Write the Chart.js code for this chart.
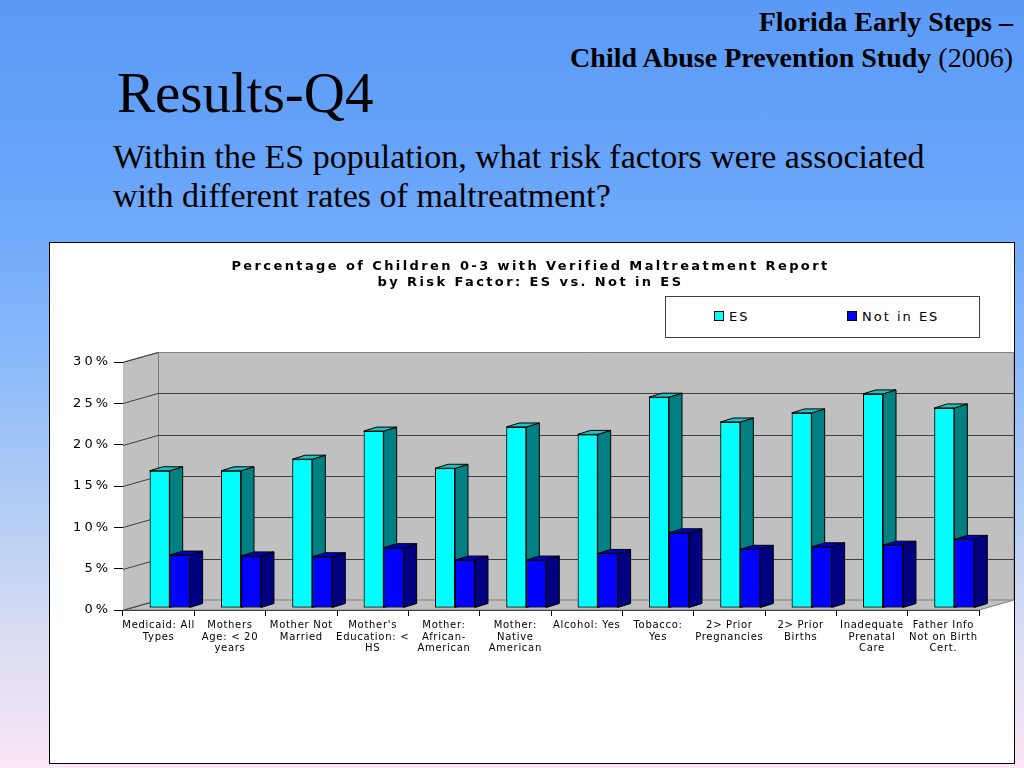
<!DOCTYPE html>
<html>
<head>
<meta charset="utf-8">
<script src="https://cdn.jsdelivr.net/npm/chart.js@4"></script>
<style>
  html, body { margin: 0; padding: 0; }
  body {
    width: 1024px; height: 768px; overflow: hidden; position: relative;
    background: linear-gradient(to bottom, #5a9af7 0%, #6aa6f9 25%, #86b8fa 45%, #b0ccf5 65%, #d8dcf2 82%, #fbe6f6 100%);
    font-family: "Liberation Serif", "Times New Roman", serif;
  }
  #study { position: absolute; right: 11px; top: 4px; text-align: right; font-size: 28px; line-height: 36px; color: #000; }
  #heading { position: absolute; left: 117px; top: 64px; font-size: 57px; line-height: 57px; color: #000; }
  #question { position: absolute; left: 113px; top: 137px; font-size: 34px; line-height: 39px; color: #000; }
  #box { position: absolute; left: 49px; top: 242px; width: 964px; height: 520px; border: 1px solid #000; background: #fff; }
  #legend {
    position: absolute; left: 615px; top: 53px; width: 313px; height: 40px;
    border: 1px solid #404040; background: #fff;
    font-family: "DejaVu Sans", sans-serif; font-size: 13px; letter-spacing: 2px; color: #000;
  }
  .item { position: absolute; top: 12px; line-height: 15px; }
  .sw { display: inline-block; width: 8px; height: 8px; border: 1px solid #000; margin-right: 5px; vertical-align: 0px; }
</style>
</head>
<body>
<div id="study"><b>Florida Early Steps –</b><br><b>Child Abuse Prevention Study</b> (2006)</div>
<div id="heading">Results-Q4</div>
<div id="question">Within the ES population, what risk factors were associated<br>with different rates of maltreatment?</div>
<div id="box">
  <canvas id="chart" width="964" height="520"></canvas>
  <div id="legend">
    <div class="item" style="left:48px"><span class="sw" style="background:#00ffff"></span>ES</div>
    <div class="item" style="left:181px"><span class="sw" style="background:#0000ff"></span>Not in ES</div>
  </div>
</div>
<script>
const categories = [
    ['Medicaid: All', 'Types'],
    ['Mothers', 'Age: < 20', 'years'],
    ['Mother Not', 'Married'],
    ["Mother's", 'Education: <', 'HS'],
    ['Mother:', 'African-', 'American'],
    ['Mother:', 'Native', 'American'],
    ['Alcohol: Yes'],
    ['Tobacco:', 'Yes'],
    ['2> Prior', 'Pregnancies'],
    ['2> Prior', 'Births'],
    ['Inadequate', 'Prenatal', 'Care'],
    ['Father Info', 'Not on Birth', 'Cert.']
];
const esValues = [16.6, 16.6, 18.0, 21.4, 16.9, 21.9, 21.0, 25.5, 22.5, 23.6, 25.9, 24.2];
const notEsValues = [6.4, 6.3, 6.2, 7.3, 5.8, 5.8, 6.6, 9.1, 7.1, 7.4, 7.6, 8.3];
const seriesNames = ['ES', 'Not in ES'];
const chartTitle = ['Percentage of Children 0-3 with Verified Maltreatment Report', 'by Risk Factor: ES vs. Not in ES'];

const SANS = '"DejaVu Sans", "Liberation Sans", Arial, sans-serif';

// gray walls + floor behind the bars, gridlines sit on the back wall
const walls = {
    id: 'walls',
    beforeDatasetsDraw(chart) {
        const ctx = chart.ctx;
        const { left, right, top, bottom } = chart.chartArea;
        const dx = 35, dy = -10;
        ctx.save();
        ctx.fillStyle = '#c0c0c0';
        ctx.strokeStyle = '#808080';
        ctx.lineWidth = 1;
        // back wall
        ctx.fillRect(left + dx, top + dy, right - left, bottom - top);
        // left wall
        ctx.beginPath();
        ctx.moveTo(left, top); ctx.lineTo(left + dx, top + dy);
        ctx.lineTo(left + dx, bottom + dy); ctx.lineTo(left, bottom);
        ctx.closePath(); ctx.fill();
        // floor
        ctx.beginPath();
        ctx.moveTo(left, bottom); ctx.lineTo(left + dx, bottom + dy);
        ctx.lineTo(right + dx, bottom + dy); ctx.lineTo(right, bottom);
        ctx.closePath(); ctx.fill(); ctx.stroke();
        // wall edges
        ctx.beginPath();
        ctx.moveTo(left + 0.5, top); ctx.lineTo(left + dx + 0.5, top + dy + 0.5);
        ctx.lineTo(right + dx, top + dy + 0.5); ctx.lineTo(right + dx, bottom + dy);
        ctx.moveTo(left + dx + 0.5, top + dy); ctx.lineTo(left + dx + 0.5, bottom + dy);
        ctx.stroke();
        // gridlines
        const ys = chart.scales.y;
        ctx.strokeStyle = '#404040';
        ys.ticks.forEach(t => {
            const py = Math.round(ys.getPixelForValue(t.value)) + 0.5;
            ctx.beginPath();
            ctx.moveTo(left, py); ctx.lineTo(left + dx, py + dy);
            if (t.value > 0 && t.value < ys.max) ctx.lineTo(right + dx, py + dy);
            ctx.stroke();
        });
        ctx.restore();
        // bars sit a little into the depth
        ctx.save();
        ctx.translate(11, -2);
    },
    afterDatasetsDraw(chart) {
        const ctx = chart.ctx;
        const fx = 13, fy = -4;
        // redraw left-to-right so each bar covers the side face of the one before
        chart.data.datasets.forEach((ds, i) => {
            chart.getDatasetMeta(i).data.forEach(bar => {
                bar.draw(ctx);
                const { x, y, base, width } = bar.getProps(['x', 'y', 'base', 'width'], true);
                const l = x - width / 2, r = x + width / 2;
                ctx.save();
                ctx.strokeStyle = '#000';
                ctx.lineWidth = 1;
                ctx.fillStyle = ds.sideColor;
                ctx.beginPath();
                ctx.moveTo(r, y); ctx.lineTo(r + fx, y + fy); ctx.lineTo(r + fx, base + fy); ctx.lineTo(r, base);
                ctx.closePath(); ctx.fill(); ctx.stroke();
                ctx.fillStyle = ds.topColor;
                ctx.beginPath();
                ctx.moveTo(l, y); ctx.lineTo(l + fx, y + fy); ctx.lineTo(r + fx, y + fy); ctx.lineTo(r, y);
                ctx.closePath(); ctx.fill(); ctx.stroke();
                ctx.restore();
            });
        });
        ctx.restore();
    }
};

// the original chart text is widely spaced
const spacing = {
    id: 'spacing',
    afterLayout(chart) {
        const wrap = (obj, fn, px, shift = 0) => {
            if (!obj || obj['_sp_' + fn]) return;
            const orig = obj[fn];
            obj[fn] = function (...a) {
                const c = chart.ctx;
                c.save();
                c.letterSpacing = px;
                c.translate(shift, 0);
                orig.apply(this, a);
                c.restore();
            };
            obj['_sp_' + fn] = true;
        };
        wrap(chart.scales.x, 'drawLabels', '0.7px');
        wrap(chart.scales.y, 'drawLabels', '3px');
        wrap(chart.titleBlock, 'draw', '2.4px', 16);
    }
};

new Chart(document.getElementById('chart'), {
    type: 'bar',
    data: {
        labels: categories,
        datasets: [
            {
                label: seriesNames[0], data: esValues, clip: false,
                backgroundColor: '#00ffff', sideColor: '#008080', topColor: '#20c0c0',
                borderColor: '#000', borderWidth: 1, borderSkipped: false
            },
            {
                label: seriesNames[1], data: notEsValues, clip: false,
                backgroundColor: '#0000ff', sideColor: '#000080', topColor: '#0000c0',
                borderColor: '#000', borderWidth: 1, borderSkipped: false
            }
        ]
    },
    options: {
        responsive: false,
        animation: false,
        layout: { padding: { left: 0, right: 35, top: 0, bottom: 0 } },
        categoryPercentage: 0.56,
        barPercentage: 1.0,
        plugins: {
            legend: { display: false },
            tooltip: { enabled: false },
            title: {
                display: true,
                text: chartTitle,
                color: '#000',
                font: { family: SANS, size: 13, weight: 'bold', lineHeight: 1.25 },
                padding: { top: 15, bottom: 71.5 }
            }
        },
        scales: {
            x: {
                afterFit: s => { s.height = 153; },
                grid: { drawOnChartArea: false, drawTicks: true, tickLength: 6, color: '#000', offset: true },
                border: { display: true, color: '#000' },
                ticks: {
                    autoSkip: false, maxRotation: 0, minRotation: 0, padding: 4,
                    color: '#000', font: { family: SANS, size: 10, lineHeight: 1.15 }
                }
            },
            y: {
                min: 0, max: 30,
                afterFit: s => { s.width = 73; },
                grid: { drawOnChartArea: false, drawTicks: true, tickLength: 9, color: '#000' },
                border: { display: true, color: '#000' },
                ticks: {
                    stepSize: 5, padding: 3, color: '#000',
                    font: { family: SANS, size: 13 },
                    callback: v => v + '%'
                }
            }
        }
    },
    plugins: [walls, spacing]
});
</script>
</body>
</html>
